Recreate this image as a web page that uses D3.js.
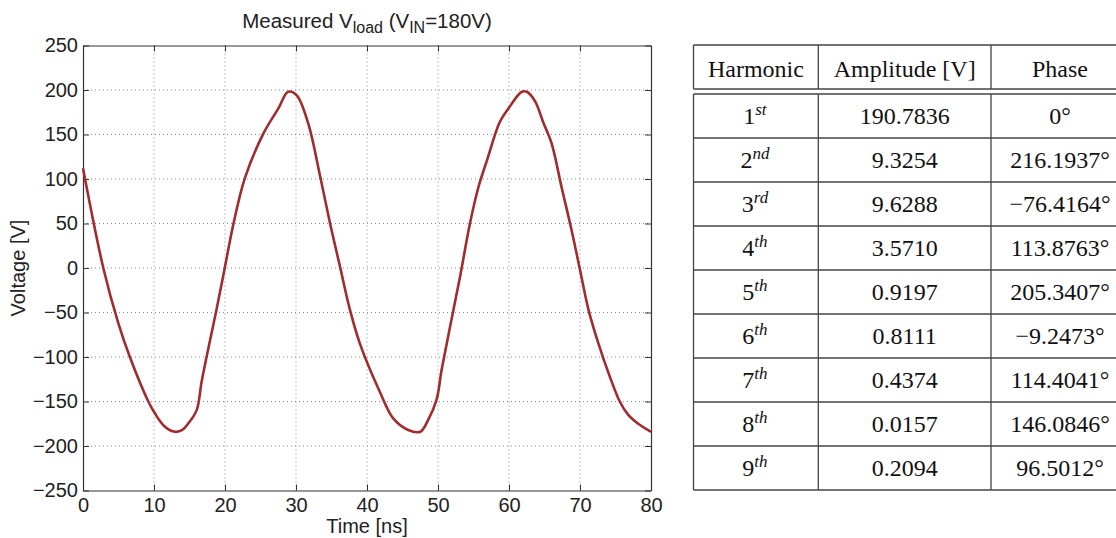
<!DOCTYPE html>
<html>
<head>
<meta charset="utf-8">
<script src="https://cdn.jsdelivr.net/npm/d3@7"></script>
<style>
  html, body { margin: 0; padding: 0; background: #fff; }
  svg { display: block; }
</style>
</head>
<body>
<svg id="fig" width="1116" height="538"></svg>
<script>
// Measured load voltage waveform (time in ns, voltage in V)
const timeNs = [0, 2.86, 4.97, 6.6, 9.2, 10.1, 11.5, 12.96, 14.0, 14.8, 16.0, 16.7, 17.4, 18.8, 20.0, 21.2, 22.8,
  25.4, 27.5, 28.9, 30.1, 31.7, 33.4, 34.8, 36.2, 37.6, 39.0, 41.8, 43.7, 45.8, 47.5, 48.6, 49.8,
  50.5, 51.7, 53.1, 54.5, 55.7, 56.9, 58.7, 59.9, 61.8, 62.5, 63.7, 64.8, 66.0, 67.4, 68.8, 70.0,
  71.2, 72.6, 74.2, 75.6, 76.8, 78.2, 80.0];
const voltage = [112, 0, -62, -100, -150, -163, -178, -184, -182, -175, -160, -128, -100, -47, 1.5, 50, 101,
  151, 179, 198, 194, 163, 103, 50, 1.5, -47, -85, -139, -169, -182, -184, -171, -148,
  -115, -66, -10, 50, 91, 121, 164, 179, 198, 198, 187, 164, 140, 91, 43, -2,
  -47, -85, -122, -150, -165, -175, -184];

const xTicks = [0, 10, 20, 30, 40, 50, 60, 70, 80];
const yTicks = [-250, -200, -150, -100, -50, 0, 50, 100, 150, 200, 250];

// Harmonic table contents
const harmonicNum = ["1", "2", "3", "4", "5", "6", "7", "8", "9"];
const harmonicSuffix = ["st", "nd", "rd", "th", "th", "th", "th", "th", "th"];
const amplitude = ["190.7836", "9.3254", "9.6288", "3.5710", "0.9197", "0.8111", "0.4374", "0.0157", "0.2094"];
const phase = ["0°", "216.1937°", "−76.4164°", "113.8763°", "205.3407°", "−9.2473°", "114.4041°", "146.0846°", "96.5012°"];
const headers = ["Harmonic", "Amplitude [V]", "Phase"];

const svg = d3.select("#fig");
const sans = '"Liberation Sans", Arial, Helvetica, sans-serif';
const serif = '"Liberation Serif", "Times New Roman", serif';
const fs = 20;

// ---------- waveform plot ----------
const plot = { left: 83, right: 651, top: 45.5, bottom: 490.5 };
const x = d3.scaleLinear().domain([0, 80]).range([plot.left, plot.right]);
const y = d3.scaleLinear().domain([-250, 250]).range([plot.bottom, plot.top]);

const g = svg.append("g");

// dotted grid
g.append("g").selectAll("line").data(xTicks.slice(1, -1)).join("line")
  .attr("x1", d => x(d)).attr("x2", d => x(d))
  .attr("y1", plot.top).attr("y2", plot.bottom)
  .attr("stroke", "#888").attr("stroke-width", 1).attr("stroke-dasharray", "1,3");
g.append("g").selectAll("line").data(yTicks.slice(1, -1)).join("line")
  .attr("x1", plot.left).attr("x2", plot.right)
  .attr("y1", d => y(d)).attr("y2", d => y(d))
  .attr("stroke", "#888").attr("stroke-width", 1).attr("stroke-dasharray", "1,3");

// axes with inward ticks
const tickStyle = sel => {
  sel.attr("font-size", fs).attr("font-family", sans);
  sel.select(".domain").attr("stroke", "#333").attr("stroke-width", 1.2);
  sel.selectAll(".tick line").attr("stroke", "#333").attr("stroke-width", 1);
  sel.selectAll(".tick text").attr("fill", "#222");
};
const fmt = d => d < 0 ? "\u2212" + Math.abs(d) : String(d);

g.append("g").attr("transform", `translate(0,${plot.bottom})`)
  .call(d3.axisBottom(x).tickValues(xTicks).tickFormat(fmt).tickSizeInner(-6).tickSizeOuter(0).tickPadding(7))
  .call(tickStyle);
g.append("g").attr("transform", `translate(0,${plot.top})`)
  .call(d3.axisTop(x).tickValues(xTicks).tickFormat("").tickSizeInner(-6).tickSizeOuter(0))
  .call(tickStyle);
g.append("g").attr("transform", `translate(${plot.left},0)`)
  .call(d3.axisLeft(y).tickValues(yTicks).tickFormat(fmt).tickSizeInner(-6).tickSizeOuter(0).tickPadding(5))
  .call(tickStyle);
g.append("g").attr("transform", `translate(${plot.right},0)`)
  .call(d3.axisRight(y).tickValues(yTicks).tickFormat("").tickSizeInner(-6).tickSizeOuter(0))
  .call(tickStyle);

// waveform
const pts = timeNs.map((t, i) => [t, voltage[i]]);
g.append("path").datum(pts)
  .attr("fill", "none").attr("stroke", "#a02d2d").attr("stroke-width", 2.6)
  .attr("stroke-linejoin", "round")
  .attr("d", d3.line().x(d => x(d[0])).y(d => y(d[1])).curve(d3.curveCatmullRom.alpha(0.5)));

// title
const title = g.append("text").attr("x", (plot.left + plot.right) / 2).attr("y", 28)
  .attr("text-anchor", "middle").attr("font-family", sans).attr("font-size", 20.5).attr("fill", "#222");
title.append("tspan").text("Measured V");
title.append("tspan").attr("font-size", 16).attr("dy", 5).text("load");
title.append("tspan").attr("dy", -5).text(" (V");
title.append("tspan").attr("font-size", 16).attr("dy", 5).text("IN");
title.append("tspan").attr("dy", -5).text("=180V)");

// axis labels
g.append("text").attr("x", (plot.left + plot.right) / 2).attr("y", 533)
  .attr("text-anchor", "middle").attr("font-family", sans).attr("font-size", fs).attr("fill", "#222")
  .text("Time [ns]");
g.append("text").attr("transform", `translate(25,${(plot.top + plot.bottom) / 2}) rotate(-90)`)
  .attr("text-anchor", "middle").attr("font-family", sans).attr("font-size", fs).attr("fill", "#222")
  .text("Voltage [V]");

// ---------- harmonic table ----------
const tbl = { left: 693.5, top: 45, headBottom: 89, bodyTop: 94, rowH: 44, right: 1140 };
const colEdges = [tbl.left, 818.3, 991, tbl.right];
const colCenter = i => (colEdges[i] + colEdges[i + 1]) / 2;
const phaseCenter = 1060;
const tbottom = tbl.bodyTop + tbl.rowH * harmonicNum.length;
const tg = svg.append("g").attr("stroke", "#444").attr("stroke-width", 1.3);

// horizontal rules
const hRules = [tbl.top, tbl.headBottom, tbl.bodyTop].concat(harmonicNum.map((_, i) => tbl.bodyTop + tbl.rowH * (i + 1)));
tg.selectAll("line.h").data(hRules).join("line").attr("class", "h")
  .attr("x1", tbl.left).attr("x2", tbl.right).attr("y1", d => d).attr("y2", d => d);
// vertical rules (split around the double rule)
colEdges.forEach(cx => {
  tg.append("line").attr("x1", cx).attr("x2", cx).attr("y1", tbl.top).attr("y2", tbl.headBottom);
  tg.append("line").attr("x1", cx).attr("x2", cx).attr("y1", tbl.bodyTop).attr("y2", tbottom);
});

const txt = svg.append("g").attr("font-family", serif).attr("font-size", 24).attr("fill", "#111")
  .attr("text-anchor", "middle");
headers.forEach((h, i) => {
  txt.append("text").attr("x", i === 2 ? phaseCenter : colCenter(i))
    .attr("y", (tbl.top + tbl.headBottom) / 2 + 9.5).text(h);
});
harmonicNum.forEach((n, i) => {
  const cy = tbl.bodyTop + tbl.rowH * i + tbl.rowH / 2 + 8;
  const t = txt.append("text").attr("x", colCenter(0) - 1).attr("y", cy);
  t.append("tspan").text(n);
  t.append("tspan").attr("font-size", 17).attr("font-style", "italic").attr("dy", -9).text(harmonicSuffix[i]);
  txt.append("text").attr("x", colCenter(1)).attr("y", cy).text(amplitude[i]);
  txt.append("text").attr("x", phaseCenter).attr("y", cy).text(phase[i]);
});
</script>
</body>
</html>
